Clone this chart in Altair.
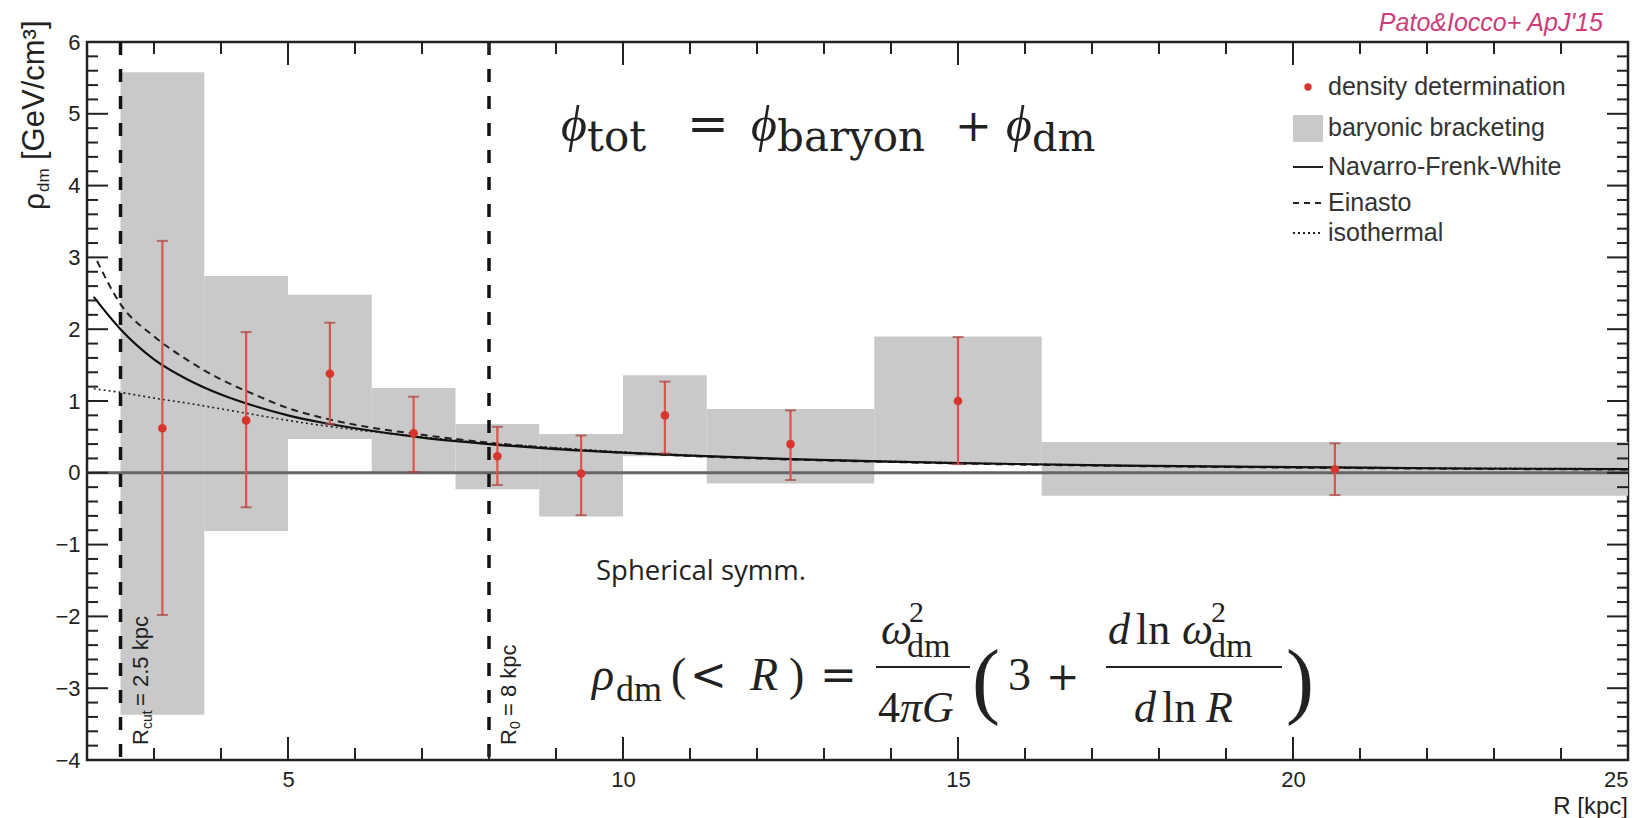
import altair as alt
import pandas as pd

# ---- baryonic bracketing: radial bins and the density band in each ----
bin_lo = [2.5, 3.75, 5.0, 6.25, 7.5, 8.75, 10.0, 11.25, 13.75, 16.25]
bin_hi = [3.75, 5.0, 6.25, 7.5, 8.75, 10.0, 11.25, 13.75, 16.25, 25.0]
band_lo = [-3.37, -0.81, 0.47, 0.0, -0.23, -0.61, 0.23, -0.15, 0.14, -0.32]
band_hi = [5.58, 2.74, 2.48, 1.18, 0.68, 0.54, 1.36, 0.89, 1.90, 0.43]

# ---- density determinations with their uncertainties ----
pt_r = [3.125, 4.375, 5.625, 6.875, 8.125, 9.375, 10.625, 12.5, 15.0, 20.625]
pt_rho = [0.62, 0.73, 1.38, 0.55, 0.23, -0.01, 0.80, 0.40, 1.00, 0.05]
pt_lo = [-1.98, -0.48, 0.68, 0.01, -0.17, -0.59, 0.27, -0.10, 0.12, -0.31]
pt_hi = [3.23, 1.96, 2.09, 1.06, 0.64, 0.52, 1.27, 0.87, 1.89, 0.41]

# ---- halo profiles ----
nfw_r = [2.1, 2.5, 3.0, 3.5, 4.0, 4.5, 5.0, 5.5, 6.0, 7.0, 8.0, 9.0, 10.0, 11.0, 12.5, 14.0, 15.0, 17.5, 20.0, 22.5, 25.0]
nfw_rho = [2.45, 2.0, 1.58, 1.30, 1.09, 0.93, 0.80, 0.70, 0.62, 0.49, 0.40, 0.33, 0.28, 0.24, 0.19, 0.155, 0.135, 0.10, 0.08, 0.06, 0.05]
ein_r = [2.15, 2.5, 3.0, 3.5, 4.0, 4.5, 5.0, 5.5, 6.0, 7.0, 8.0, 9.0, 10.0, 11.0, 12.5, 14.0, 15.0, 17.5, 20.0, 22.5, 25.0]
ein_rho = [2.95, 2.35, 1.90, 1.57, 1.30, 1.09, 0.90, 0.77, 0.67, 0.53, 0.42, 0.34, 0.28, 0.235, 0.185, 0.15, 0.13, 0.095, 0.072, 0.056, 0.044]
iso_r = [2.1, 2.5, 3.0, 3.5, 4.0, 4.5, 5.0, 5.5, 6.0, 7.0, 8.0, 9.0, 10.0, 11.0, 12.5, 14.0, 15.0, 17.5, 20.0, 22.5, 25.0]
iso_rho = [1.17, 1.12, 1.04, 0.97, 0.89, 0.81, 0.73, 0.66, 0.60, 0.50, 0.41, 0.35, 0.29, 0.245, 0.19, 0.16, 0.14, 0.10, 0.08, 0.065, 0.055]

# reference radii: R_cut and R_0
vlines = [2.5, 8.0]

# axis ticks and labels
x_major = [5, 10, 15, 20, 25]
x_minor = [v for v in range(3, 25) if v % 5]
y_major = list(range(-4, 7))
y_minor = [round(-4 + 0.2 * i, 1) for i in range(51) if i % 5]

W, H = 1541, 718          # plot area
OX, OY = 87, 42           # plot origin on the page

xs = alt.Scale(domain=[2, 25], nice=False, zero=False)
ys = alt.Scale(domain=[-4, 6], nice=False, zero=False)
xaxis = alt.Axis(values=x_major, title=None, labelPadding=9, labelFontSize=22)
yaxis = alt.Axis(values=y_major, title=None, labelPadding=7, labelFontSize=22)


def X(f):
    return alt.X(f, type="quantitative", scale=xs, axis=xaxis)


def Y(f):
    return alt.Y(f, type="quantitative", scale=ys, axis=yaxis)


boxes = pd.DataFrame({"r0": bin_lo, "r1": bin_hi, "lo": band_lo, "hi": band_hi})
pts = pd.DataFrame({"r": pt_r, "rho": pt_rho, "lo": pt_lo, "hi": pt_hi})
prof = lambda r, v: pd.DataFrame({"r": r, "rho": v})
anchor = pd.DataFrame({"k": [0]})

layers = []

layers.append(
    alt.Chart(boxes).mark_rect(color="#c9c9c9").encode(
        x=X("r0"), x2="r1", y=Y("lo"), y2="hi"
    )
)
layers.append(
    alt.Chart(pd.DataFrame({"v": [0.0]})).mark_rule(color="#666", strokeWidth=3).encode(
        y=Y("v"), x=alt.value(0), x2=alt.value(W)
    )
)
layers.append(
    alt.Chart(prof(iso_r, iso_rho)).mark_line(
        color="#222", strokeWidth=1.6, strokeDash=[2, 3], interpolate="monotone"
    ).encode(x=X("r"), y=Y("rho"))
)
layers.append(
    alt.Chart(prof(ein_r, ein_rho)).mark_line(
        color="#222", strokeWidth=2, strokeDash=[7, 5], interpolate="monotone"
    ).encode(x=X("r"), y=Y("rho"))
)
layers.append(
    alt.Chart(prof(nfw_r, nfw_rho)).mark_line(
        color="#111", strokeWidth=2.2, interpolate="monotone"
    ).encode(x=X("r"), y=Y("rho"))
)
layers.append(
    alt.Chart(pd.DataFrame({"r": vlines})).mark_rule(
        color="#111", strokeWidth=3.5, strokeDash=[13, 14]
    ).encode(x=X("r"), y=alt.value(0), y2=alt.value(H))
)

# error bars, caps and central values
layers.append(
    alt.Chart(pts).mark_rule(color="#e0524c", strokeWidth=2.2).encode(
        x=X("r"), y=Y("lo"), y2="hi"
    )
)
for end in ["lo", "hi"]:
    layers.append(
        alt.Chart(pts).mark_tick(
            orient="horizontal", color="#a8403a", size=11, thickness=2
        ).encode(x=X("r"), y=Y(end))
    )
layers.append(
    alt.Chart(pts).mark_circle(color="#d8352e", size=75, opacity=1).encode(
        x=X("r"), y=Y("rho")
    )
)

# inward ticks on all four sides of the frame
tick_col = "#222"
for vals, ln in [(y_major, 21), (y_minor, 11)]:
    d = pd.DataFrame({"v": vals})
    layers.append(alt.Chart(d).mark_rule(color=tick_col, strokeWidth=2).encode(
        y=Y("v"), x=alt.value(0), x2=alt.value(ln)))
    layers.append(alt.Chart(d).mark_rule(color=tick_col, strokeWidth=2).encode(
        y=Y("v"), x=alt.value(W), x2=alt.value(W - ln)))
for vals, ln in [(x_major, 23), (x_minor, 12)]:
    d = pd.DataFrame({"v": vals})
    layers.append(alt.Chart(d).mark_rule(color=tick_col, strokeWidth=2).encode(
        x=X("v"), y=alt.value(H), y2=alt.value(H - ln)))
    layers.append(alt.Chart(d).mark_rule(color=tick_col, strokeWidth=2).encode(
        x=X("v"), y=alt.value(0), y2=alt.value(ln)))


def txt(s, x, y, size, font="Liberation Sans", style="normal", weight="normal",
        color="#222", align="left", baseline="alphabetic", angle=0):
    """Text placed at page coordinates (x, y)."""
    return alt.Chart(anchor).mark_text(
        text=s, font=font, fontSize=size, fontStyle=style, fontWeight=weight,
        color=color, align=align, baseline=baseline, angle=angle
    ).encode(x=alt.value(x - OX), y=alt.value(y - OY))


def hbar(x0, x1, y, w=1.8):
    return alt.Chart(anchor).mark_rule(color="#222", strokeWidth=w).encode(
        x=alt.value(x0 - OX), x2=alt.value(x1 - OX), y=alt.value(y - OY))


# axis titles
layers += [
    txt("ρ", 44, 210, 30, angle=270),
    txt("dm", 49, 192, 17, angle=270),
    txt("[GeV/cm³]", 44, 160, 31, angle=270),
    txt("R [kpc]", 1628, 814, 24, align="right"),
]

# labels along the reference radii
layers += [
    txt("R", 148, 745, 22, angle=270),
    txt("cut", 152, 729, 14, angle=270),
    txt("= 2.5 kpc", 148, 706, 22, angle=270),
    txt("R", 516, 745, 22, angle=270),
    txt("0", 520, 729, 14, angle=270),
    txt("= 8 kpc", 516, 716, 22, angle=270),
]

# reference tag
layers.append(txt("Pato&Iocco+ ApJ'15", 1603, 31, 25, style="italic", color="#cc3d7a", align="right"))

# legend
lx0, lx1, ltx = 1293, 1323, 1328
leg_y = [87, 128, 167, 203, 233]
leg_txt = ["density determination", "baryonic bracketing", "Navarro-Frenk-White", "Einasto", "isothermal"]
layers.append(alt.Chart(anchor).mark_circle(color="#d8352e", size=55, opacity=1).encode(
    x=alt.value(1308 - OX), y=alt.value(leg_y[0] - OY)))
layers.append(alt.Chart(anchor).mark_rect(color="#c9c9c9").encode(
    x=alt.value(lx0 - OX), x2=alt.value(lx1 - OX), y=alt.value(115 - OY), y2=alt.value(142 - OY)))
for yy, dash in [(leg_y[2], None), (leg_y[3], [6, 5]), (leg_y[4], [2, 3])]:
    kw = {"strokeDash": dash} if dash else {}
    layers.append(alt.Chart(anchor).mark_rule(color="#222", strokeWidth=2, **kw).encode(
        x=alt.value(lx0 - OX), x2=alt.value(lx1 - OX), y=alt.value(yy - OY)))
for yy, s in zip(leg_y, leg_txt):
    layers.append(txt(s, ltx, yy, 25, color="#333", baseline="middle"))

# potential decomposition
SER = "Liberation Serif"
OPS = "DejaVu Serif"
layers += [
    txt("ϕ", 561, 141, 50, font=SER, style="italic"),
    txt("tot", 587, 151, 42, font=OPS),
    txt("=", 687, 141, 50, font=OPS),
    txt("ϕ", 751, 141, 50, font=SER, style="italic"),
    txt("baryon", 777, 151, 42, font=OPS),
    txt("+", 955, 141, 44, font=OPS),
    txt("ϕ", 1006, 141, 50, font=SER, style="italic"),
    txt("dm", 1032, 151, 40, font=OPS),
]

# spherical-symmetry relation
layers.append(txt("Spherical symm.", 596, 580, 27.5, font="Open Sans", color="#222"))
layers += [
    txt("ρ", 592, 690, 46, font=SER, style="italic"),
    txt("dm", 616, 701, 36, font=SER),
    txt("(", 671, 690, 46, font=SER),
    txt("<", 690, 690, 44, font=OPS),
    txt("R", 750, 690, 46, font=SER, style="italic"),
    txt(")", 789, 690, 46, font=SER),
    txt("=", 820, 690, 44, font=OPS),
    txt("ω", 881, 644, 44, font=SER, style="italic"),
    txt("2", 909, 622, 30, font=SER),
    txt("dm", 907, 657, 34, font=SER),
    hbar(876, 970, 667),
    txt("4", 878, 722, 44, font=SER),
    txt("πG", 900, 722, 44, font=SER, style="italic"),
    txt("(", 972, 708, 84, font=SER),
    txt("3", 1008, 690, 46, font=SER),
    txt("+", 1046, 690, 40, font=OPS),
    txt("d", 1108, 644, 44, font=SER, style="italic"),
    txt("ln", 1136, 644, 44, font=SER),
    txt("ω", 1182, 644, 44, font=SER, style="italic"),
    txt("2", 1211, 622, 30, font=SER),
    txt("dm", 1209, 657, 34, font=SER),
    hbar(1106, 1282, 667),
    txt("d", 1134, 722, 44, font=SER, style="italic"),
    txt("ln", 1162, 722, 44, font=SER),
    txt("R", 1206, 722, 44, font=SER, style="italic"),
    txt(")", 1286, 708, 84, font=SER),
]

chart = alt.layer(*layers).properties(
    width=W, height=H,
    padding={"left": OX, "top": OY, "right": 1646 - OX - W, "bottom": 818 - OY - H},
    autosize=alt.AutoSizeParams(type="none"),
    background="white",
).configure_view(
    stroke="#222", strokeWidth=2.5
).configure_axis(
    grid=False, domain=False, ticks=False,
    labelFont="Liberation Sans", labelColor="#222",
)

chart.save("out.html", embed_options={"renderer": "svg", "actions": False})
